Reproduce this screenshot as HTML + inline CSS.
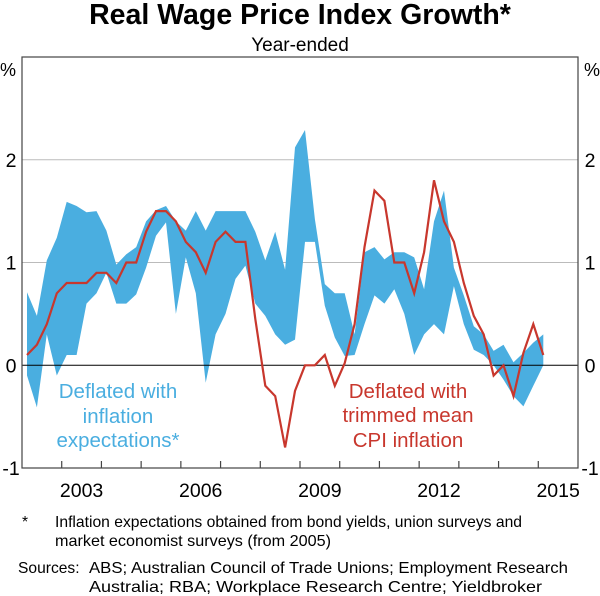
<!DOCTYPE html>
<html><head><meta charset="utf-8"><style>
body{margin:0;background:#fff;width:600px;height:596px;overflow:hidden;font-family:"Liberation Sans",Arial,sans-serif}
svg{display:block}
</style></head><body>
<svg id="chart" width="600" height="596" font-family="Liberation Sans, Arial, sans-serif">
<text x="300" y="24" text-anchor="middle" font-size="28.5" font-weight="bold">Real Wage Price Index Growth*</text>
<text x="300" y="51" text-anchor="middle" font-size="19">Year-ended</text>
<text x="8" y="76" text-anchor="middle" font-size="18">%</text>
<text x="592" y="76" text-anchor="middle" font-size="18">%</text>
<g id="grid"></g>
<g id="band"></g>
<g id="line"></g>
<g id="axes"></g>
<g fill="#4aaee0" font-size="20.5" text-anchor="middle">
<text x="118" y="398">Deflated with</text><text x="118" y="423">inflation</text><text x="118" y="447">expectations*</text></g>
<g fill="#c8372d" font-size="20.5" text-anchor="middle">
<text x="408" y="398">Deflated with</text><text x="408" y="422">trimmed mean</text><text x="408" y="447">CPI inflation</text></g>
<g font-size="15.6">
<text x="22" y="527">*</text>
<text x="55" y="527" textLength="467" lengthAdjust="spacingAndGlyphs">Inflation expectations obtained from bond yields, union surveys and</text>
<text x="55" y="546" textLength="276" lengthAdjust="spacingAndGlyphs">market economist surveys (from 2005)</text>
<text x="18" y="573">Sources:</text>
<text x="89" y="573" textLength="479" lengthAdjust="spacingAndGlyphs">ABS; Australian Council of Trade Unions; Employment Research</text>
<text x="89" y="592" textLength="453" lengthAdjust="spacingAndGlyphs">Australia; RBA; Workplace Research Centre; Yieldbroker</text>
</g>
</svg>
<script>
const yTicks=[-1,0,1,2,3];
const yTickLabels=["-1","0","1","2",""];
const xLabelYears=[2003,2006,2009,2012,2015];
const startYear=2002.125;
const bandUpper=[0.71,0.48,1.02,1.24,1.59,1.55,1.49,1.5,1.31,0.98,1.08,1.15,1.4,1.51,1.55,1.4,1.31,1.5,1.31,1.5,1.5,1.5,1.5,1.3,1.02,1.3,0.93,2.12,2.29,1.42,0.79,0.7,0.7,0.3,1.1,1.15,1.03,1.1,1.1,1.05,0.74,1.4,1.7,0.95,0.68,0.38,0.3,0.14,0.2,0.03,0.12,0.22,0.3];
const bandLower=[-0.1,-0.41,0.3,-0.1,0.1,0.1,0.6,0.7,0.9,0.6,0.6,0.69,0.95,1.26,1.39,0.5,1.05,0.7,-0.17,0.3,0.5,0.84,0.97,0.6,0.48,0.3,0.2,0.25,1.2,1.2,0.58,0.27,0.09,0.1,0.4,0.68,0.6,0.74,0.5,0.1,0.3,0.4,0.3,0.77,0.4,0.15,0.1,0,-0.14,-0.3,-0.4,-0.2,0];
const trimmedMean=[0.1,0.2,0.4,0.7,0.8,0.8,0.8,0.9,0.9,0.8,1.0,1.0,1.3,1.5,1.5,1.4,1.2,1.1,0.9,1.2,1.3,1.2,1.2,0.45,-0.2,-0.3,-0.8,-0.25,0,0,0.1,-0.2,0.02,0.4,1.15,1.7,1.6,1.0,1.0,0.7,1.1,1.8,1.4,1.2,0.8,0.48,0.3,-0.1,0,-0.3,0.12,0.4,0.1];
const L=22,R=578,T=57,B=468,x0=2002,x1=2016;
const X=t=>L+(t-x0)/(x1-x0)*(R-L);
const Y=v=>B-(v+1)/4*(B-T);
const NS='http://www.w3.org/2000/svg';
function mk(tag,attrs,parent){const e=document.createElementNS(NS,tag);for(const k in attrs)e.setAttribute(k,attrs[k]);parent.appendChild(e);return e;}
const grid=document.getElementById('grid'),axes=document.getElementById('axes');
yTicks.forEach((v,i)=>{
  if(v===1||v===2){const g=mk('line',{x1:L,x2:R,y1:Y(v),y2:Y(v),stroke:'#bbb','stroke-width':1},grid);
  
  }
  if(yTickLabels[i]!==""){
  const a=mk('text',{x:11,y:Y(v)+7,'text-anchor':'middle','font-size':19.5},axes);a.textContent=yTickLabels[i];
  
  
  const b=mk('text',{x:590,y:Y(v)+7,'text-anchor':'middle','font-size':19.5},axes);b.textContent=yTickLabels[i];
  
  }
});
const t=i=>startYear+i*0.25;
let d='M'+bandUpper.map((v,i)=>X(t(i)).toFixed(1)+','+Y(v).toFixed(1)).join('L');
for(let i=bandLower.length-1;i>=0;i--)d+='L'+X(t(i)).toFixed(1)+','+Y(bandLower[i]).toFixed(1);
const band=mk('path',{d:d+'Z',fill:'#4aaee0'},document.getElementById('band'));


const zero=mk('line',{x1:L,x2:R,y1:Y(0),y2:Y(0),stroke:'#000','stroke-width':1},document.getElementById('band'));


const ln=mk('polyline',{points:trimmedMean.map((v,i)=>X(t(i)).toFixed(1)+','+Y(v).toFixed(1)).join(' '),fill:'none',stroke:'#c8372d','stroke-width':2.2,'stroke-linejoin':'miter'},document.getElementById('line'));


const frame=mk('rect',{x:L,y:T,width:R-L,height:B-T,fill:'none',stroke:'#444','stroke-width':1.2},axes);


for(let yr=2003;yr<=2015;yr++){const tk=mk('line',{x1:X(yr),x2:X(yr),y1:B,y2:B-7,stroke:'#444','stroke-width':1.2},axes);

}
xLabelYears.forEach(yr=>{const a=mk('text',{x:X(yr+0.5),y:497,'text-anchor':'middle','font-size':19.5},axes);a.textContent=yr;

});
</script>
</body></html>
